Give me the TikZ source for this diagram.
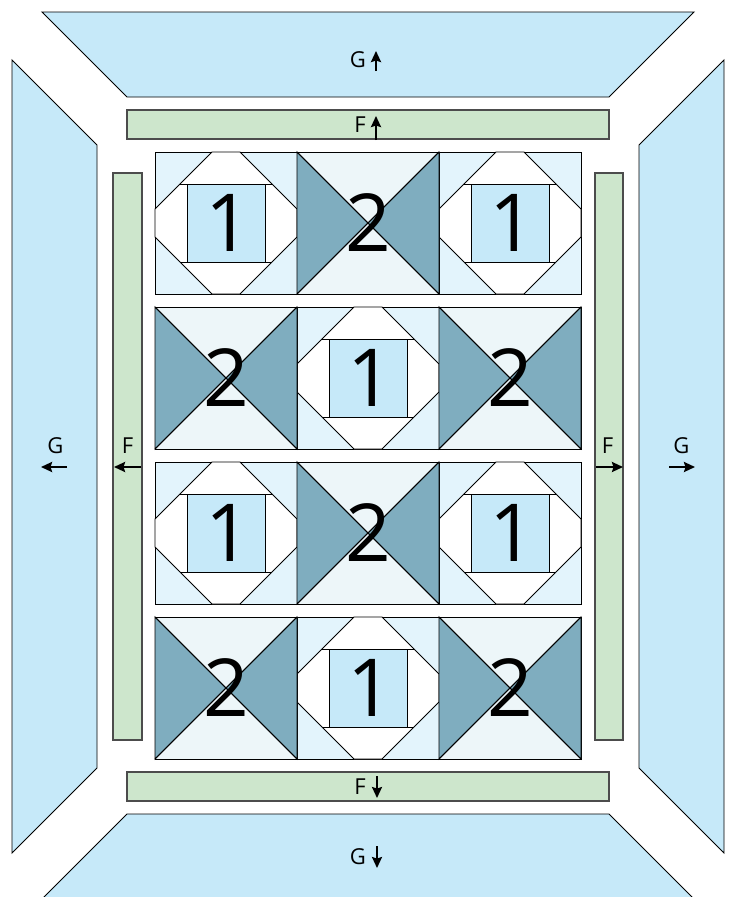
\documentclass[tikz,border=0pt]{standalone}
\usepackage{fontspec}
\setmainfont{Open Sans}
\usetikzlibrary{arrows.meta}
\definecolor{gblue}{HTML}{C6E9F9}
\definecolor{fgreen}{HTML}{CDE6CC}
\definecolor{cornerblue}{HTML}{E3F4FC}
\definecolor{hglight}{HTML}{EDF6F9}
\definecolor{hgdark}{HTML}{7FADBF}

\begin{document}
\begin{tikzpicture}[x=1pt,y=-1pt,line width=0.9pt,
    gpanel/.style={fill=gblue,draw=black},
    fstrip/.style={fill=fgreen,draw=black!70,line width=1.6pt},
    lab/.style={font=\fontsize{22}{22}\selectfont,inner sep=0pt},
    num/.style={font=\fontsize{80}{80}\selectfont,inner sep=0pt},
    dirarrow/.style={-{Stealth[length=11pt,width=10pt,inset=1.5pt]},line width=2.2pt,shorten >=-1pt}]
    \useasboundingbox (0,0) rectangle (732,897);
    % outer border G
    \draw[gpanel] (42,12)--(694,12)--(609,97)--(127,97)--cycle;
    \draw[gpanel] (127,814)--(609,814)--(694,899)--(42,899)--cycle;
    \draw[gpanel] (12,60)--(97,145)--(97,768)--(12,853)--cycle;
    \draw[gpanel] (724,60)--(639,145)--(639,768)--(724,853)--cycle;
    % inner border F
    \draw[fstrip] (127,110) rectangle (609,139);
    \draw[fstrip] (127,772) rectangle (609,801);
    \draw[fstrip] (113,173) rectangle (142,740);
    \draw[fstrip] (595,173) rectangle (623,740);
    % blocks 1
    \foreach \x/\y in {155/152, 439/152, 297/307, 155/462, 439/462, 297/617}{
        \begin{scope}[shift={(\x,\y)}]
            \filldraw[fill=cornerblue] (0,0) rectangle (142,142);
            \filldraw[fill=white] (57,0)--(85,0)--(142,57)--(142,85)--(85,142)--(57,142)--(0,85)--(0,57)--cycle;
            \filldraw[fill=gblue] (32,32) rectangle (110,110);
            \draw (25,32)--(117,32) (25,110)--(117,110);
            \node[num] (one\x-\y) at (73,71) {1};
        \end{scope}
    }
    % blocks 2
    \foreach \x/\y in {297/152, 155/307, 439/307, 297/462, 155/617, 439/617}{
        \begin{scope}[shift={(\x,\y)}]
            \filldraw[fill=hglight] (0,0) rectangle (142,142);
            \filldraw[fill=hgdark] (0,0)--(71,71)--(0,142)--cycle;
            \filldraw[fill=hgdark] (142,0)--(71,71)--(142,142)--cycle;
            \draw (0,0)--(142,142) (142,0)--(0,142);
            \node[num] (two\x-\y) at (71,71) {2};
        \end{scope}
    }
    % labels with direction arrows
    \foreach \nm/\t/\p/\a/\b in {gt/G/{358,60}/{376,71}/{376,52}, ft/F/{360,125}/{376,140}/{376,117},
        fb/F/{360,787}/{377,776}/{377,797}, gb/G/{358,857}/{377,846}/{377,867},
        gl/G/{55.5,446}/{67,467}/{42,467}, fl/F/{127.5,446}/{141,467}/{115,467},
        fr/F/{607.5,446}/{596,467}/{622,467}, gr/G/{681.5,446}/{669,467}/{694,467}}{
        \node[lab] (\nm) at (\p) {\t};
        \coordinate (\nm-a) at (\a); \coordinate (\nm-b) at (\b);
        \draw[dirarrow] (\nm-a) -- (\nm-b);
    }
\end{tikzpicture}
\end{document}
